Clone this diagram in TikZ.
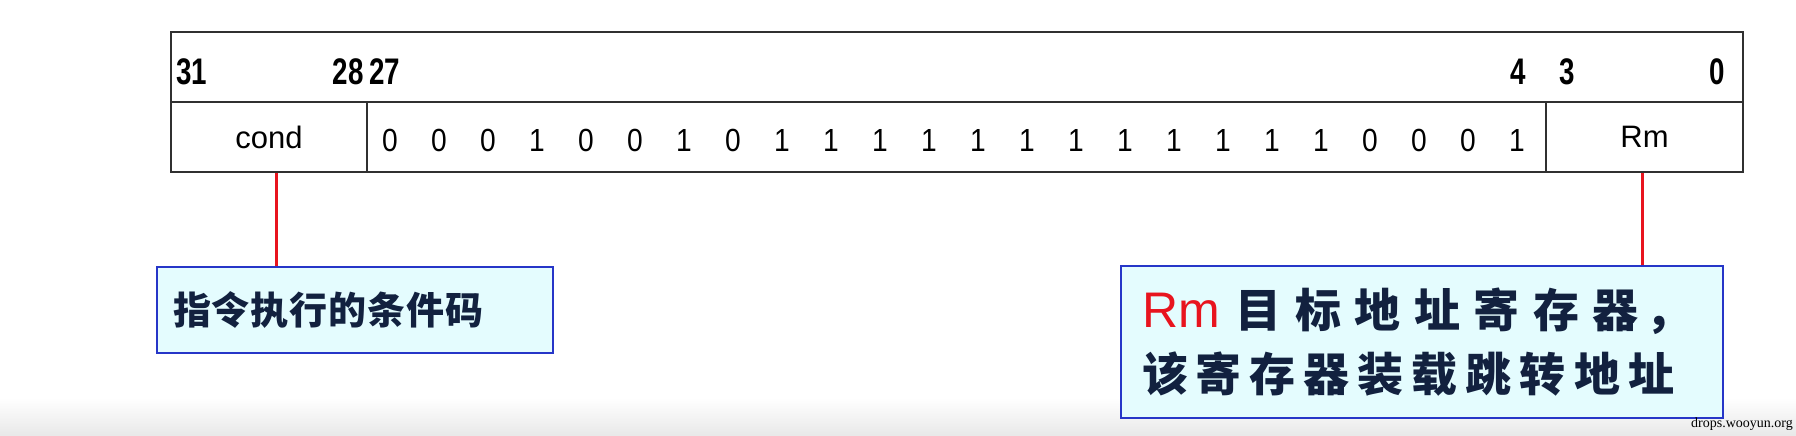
\documentclass[tikz,border=0pt]{standalone}
\usepackage{fontspec}
\usepackage{graphicx}
\setmainfont{Liberation Sans}
\newfontfamily\cjk{Noto Sans CJK SC}
\newfontfamily\serifwm{Liberation Serif}
\definecolor{tblline}{HTML}{303030}
\definecolor{rmred}{HTML}{E8141E}
\definecolor{boxfill}{HTML}{E4FCFE}
\definecolor{boxline}{HTML}{2636C8}
\definecolor{navy}{HTML}{12213F}
\tikzset{
  cell/.style={draw=tblline, line width=2pt, inner sep=0pt, font=\fontsize{31}{31}\selectfont},
  bitval/.style={inner sep=0pt, font=\fontsize{32}{32}\selectfont},
  hdrlbl/.style={inner sep=0pt, font=\bfseries\fontsize{37}{37}\selectfont},
  redline/.style={draw=rmred, line width=3pt},
  note/.style={draw=boxline, line width=2pt, fill=boxfill, inner xsep=16pt, inner ysep=0pt, align=left, text=navy},
}
\newcommand{\narrowlbl}[1]{\scalebox{0.75}[1]{#1}}
\newcommand{\narrowbit}[1]{\scalebox{0.88}[1]{#1}}
\begin{document}
\begin{tikzpicture}[x=1pt,y=-1pt]
\useasboundingbox (0,0) rectangle (1796,436);
\shade[top color=white, bottom color=black!9] (0,398) rectangle (1796,436);
% register layout
\node[cell, minimum width=1572pt, minimum height=70pt] (hdr) at (957,67) {};
\node[cell, minimum width=196pt, minimum height=70pt] (cond) at (269,137) {cond};
\node[cell, minimum width=1179pt, minimum height=70pt] (bits) at (956.5,137) {};
\node[cell, minimum width=197pt, minimum height=70pt] (rm) at (1644.5,137) {Rm};
% bit numbers
\node[hdrlbl, anchor=west] (b31) at (176,72) {\narrowlbl{31}};
\node[hdrlbl, anchor=east] (b28) at (364,72) {\narrowlbl{28}};
\node[hdrlbl, anchor=west] (b27) at (369,72) {\narrowlbl{27}};
\node[hdrlbl, anchor=east] (b4) at (1526,72) {\narrowlbl{4}};
\node[hdrlbl, anchor=west] (b3) at (1559,72) {\narrowlbl{3}};
\node[hdrlbl, anchor=east] (b0) at (1725,72) {\narrowlbl{0}};
% bit values
\foreach \b [count=\i from 0] in {0,0,0,1,0,0,1,0,1,1,1,1,1,1,1,1,1,1,1,1,0,0,0,1}
  \node[bitval] (v\i) at (390+49*\i,140) {\narrowbit{\b}};
% notes
\node[note, minimum width=396pt, minimum height=86pt, text width=364pt] (condbox) at (355,310)
  {\cjk\bfseries\fontsize{38}{38}\selectfont 指\hspace{1pt}令\hspace{1pt}执\hspace{1pt}行\hspace{1pt}的\hspace{1pt}条\hspace{1pt}件\hspace{1pt}码};
\node[note, minimum width=602pt, minimum height=152pt, text width=560pt, inner xsep=21pt] (rmbox) at (1422,342)
  {\cjk\bfseries\fontsize{46}{46}\selectfont
   {\normalfont\color{rmred}\fontsize{50}{50}\selectfont Rm}\hspace{16pt}目\hspace{13.5pt}标\hspace{13.5pt}地\hspace{13.5pt}址\hspace{13.5pt}寄\hspace{13.5pt}存\hspace{13.5pt}器\hspace{7pt}，\\[16pt]
   该\hspace{8pt}寄\hspace{8pt}存\hspace{8pt}器\hspace{8pt}装\hspace{8pt}载\hspace{8pt}跳\hspace{8pt}转\hspace{8pt}地\hspace{8pt}址};
% connectors
\draw[redline] ([xshift=7pt]cond.south) -- ([xshift=7pt]cond.south |- condbox.north);
\draw[redline] ([xshift=-2pt]rm.south) -- ([xshift=-2pt]rm.south |- rmbox.north);
% source mark
\node[anchor=east, inner sep=0pt, font=\serifwm\fontsize{14}{14}\selectfont] (src) at (1793,424) {drops.wooyun.org};
\end{tikzpicture}
\end{document}
